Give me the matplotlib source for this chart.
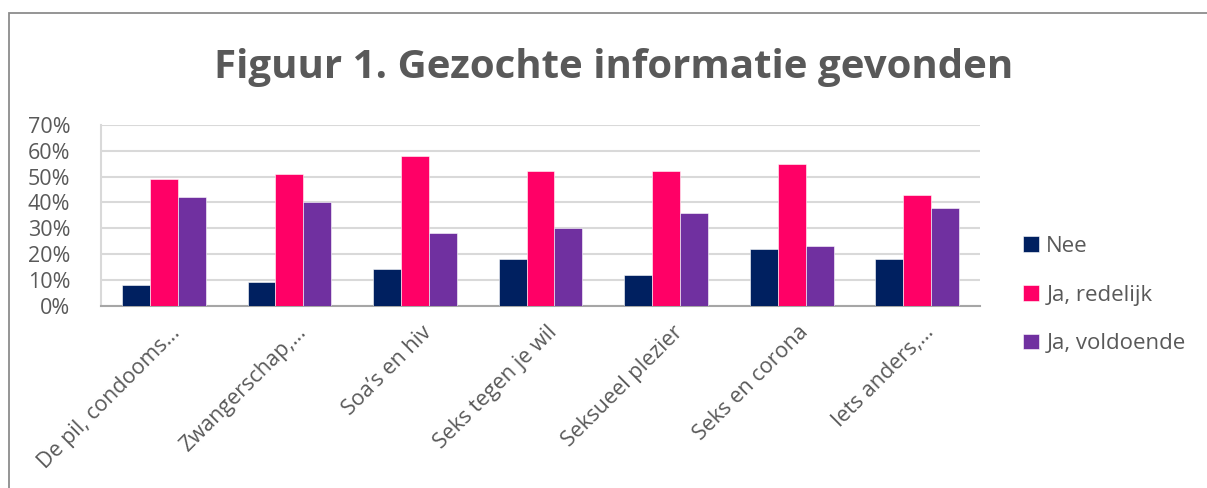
import matplotlib
matplotlib.use('Agg')
import matplotlib.pyplot as plt
import matplotlib.transforms as mtransforms
from matplotlib.patches import Rectangle
from matplotlib.ticker import PercentFormatter
import numpy as np

plt.rcParams['font.family'] = ['Open Sans', 'DejaVu Sans']

# ── Data ──
categories = ['De pil, condooms…', 'Zwangerschap,…', 'Soa’s en hiv', 'Seks tegen je wil',
              'Seksueel plezier', 'Seks en corona', 'Iets anders,…']
nee = [8, 9, 14, 18, 12, 22, 18]
redelijk = [49, 51, 58, 52, 52, 55, 43]
voldoende = [42, 40, 28, 30, 36, 23, 38]
series_names = ['Nee', 'Ja, redelijk', 'Ja, voldoende']
colors = ['#002060', '#FF0066', '#7030A0']
yticks = [0, 10, 20, 30, 40, 50, 60, 70]

TXT = '#595959'
W, H = 1207, 488

fig = plt.figure(figsize=(W / 100, H / 100), dpi=100)
ax = fig.add_axes([101 / W, 1 - 305.5 / H, (980 - 101) / W, (305.5 - 125) / H])

x = np.arange(len(categories))
w = 1 / 4.5
for i, vals in enumerate([nee, redelijk, voldoende]):
    ax.bar(x + (i - 1) * w, vals, w, color=colors[i], label=series_names[i], zorder=3,
           edgecolor='white', linewidth=0.4)

ax.set_xlim(-0.5, len(categories) - 0.5)
ax.set_ylim(0, 70)
ax.set_yticks(yticks)
ax.yaxis.set_major_formatter(PercentFormatter(decimals=0))
ax.grid(axis='y', color='#d9d9d9', linewidth=1.5, zorder=0)
ax.set_xticks(x)
ax.set_xticklabels(categories, rotation=45, ha='right', rotation_mode='anchor')
ax.tick_params(axis='both', length=0, labelsize=15.5, labelcolor=TXT)
ax.tick_params(axis='y', pad=22)
ax.tick_params(axis='x', pad=12)
shift = mtransforms.ScaledTranslation(6 / 100, 0, fig.dpi_scale_trans)
for lbl in ax.get_xticklabels():
    lbl.set_transform(lbl.get_transform() + shift)
for s in ['top', 'right']:
    ax.spines[s].set_visible(False)
ax.spines['left'].set_color('#d9d9d9')
ax.spines['left'].set_linewidth(1.5)
ax.spines['bottom'].set_color('#a6a6a6')
ax.spines['bottom'].set_linewidth(1.5)

fig.text(614 / W, 1 - 67 / H, 'Figuur 1. Gezochte informatie gevonden', ha='center', va='center',
         fontsize=29, fontweight='bold', color=TXT)

fig.legend(loc='center left', bbox_to_anchor=(1003 / W, 1 - 295 / H), frameon=False,
           fontsize=16, labelcolor=TXT, handlelength=0.7, handleheight=0.7,
           handletextpad=0.35, labelspacing=1.25)

# outer chart border (right and bottom edges fall outside the picture)
fig.patches.append(Rectangle((9 / W, -0.1), 1.2, 1 - 13 / H + 0.1, transform=fig.transFigure,
                             fill=False, edgecolor='#8c8c8c', linewidth=1.3))

plt.savefig('out.png', dpi=100)
plt.close()
